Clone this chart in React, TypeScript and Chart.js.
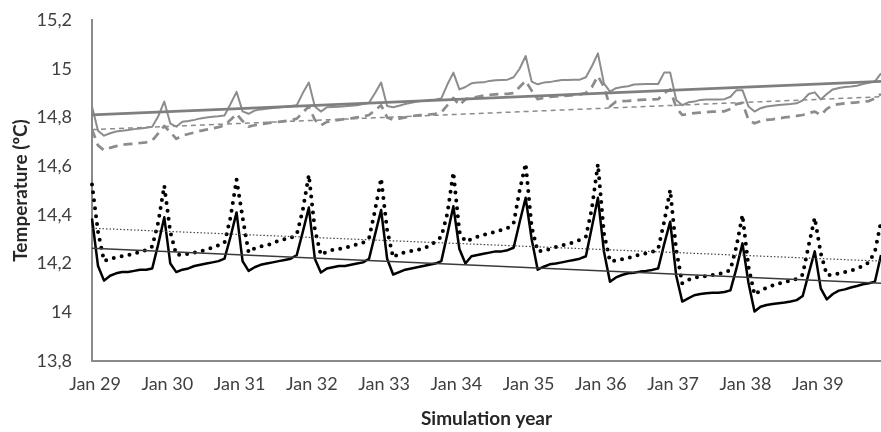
import { useEffect, useRef } from 'react';
import { Chart, registerables } from 'chart.js';

Chart.register(...registerables);

const yearLabels = ['Jan 29', 'Jan 30', 'Jan 31', 'Jan 32', 'Jan 33', 'Jan 34', 'Jan 35', 'Jan 36', 'Jan 37', 'Jan 38', 'Jan 39'];

// monthly values, Jan 29 .. Dec 39 (132 months)
const graySolid = [
  14.845, 14.745, 14.725, 14.735, 14.742, 14.745, 14.748, 14.752, 14.755, 14.758, 14.762, 14.805,
  14.865, 14.775, 14.762, 14.782, 14.785, 14.79, 14.796, 14.8, 14.803, 14.805, 14.808, 14.855,
  14.905, 14.825, 14.815, 14.828, 14.833, 14.836, 14.839, 14.841, 14.844, 14.847, 14.85, 14.9,
  14.943, 14.845, 14.824, 14.842, 14.843, 14.844, 14.846, 14.848, 14.85, 14.855, 14.86, 14.9,
  14.943, 14.847, 14.842, 14.848, 14.855, 14.86, 14.865, 14.868, 14.872, 14.874, 14.878, 14.935,
  14.984, 14.915, 14.925, 14.94, 14.943, 14.944, 14.95, 14.953, 14.954, 14.955, 14.965, 15.0,
  15.052, 14.947, 14.936, 14.943, 14.945, 14.95, 14.954, 14.954, 14.955, 14.955, 14.965, 15.01,
  15.063, 14.94, 14.906, 14.92, 14.925, 14.928, 14.935, 14.936, 14.937, 14.937, 14.937, 14.984,
  14.984, 14.872, 14.85, 14.862, 14.865, 14.872, 14.874, 14.874, 14.874, 14.875, 14.885, 14.912,
  14.912, 14.845, 14.824, 14.838, 14.845, 14.848, 14.851, 14.853, 14.855, 14.858, 14.87, 14.896,
  14.903, 14.874, 14.896, 14.915, 14.921, 14.925, 14.927, 14.93, 14.937, 14.942, 14.948, 14.981,
];

const grayDashed = [
  14.75, 14.685, 14.665, 14.675, 14.682, 14.688, 14.69, 14.692, 14.695, 14.698, 14.705, 14.735,
  14.765, 14.74, 14.712, 14.725, 14.732, 14.738, 14.745, 14.75, 14.755, 14.76, 14.767, 14.79,
  14.815, 14.785, 14.762, 14.768, 14.772, 14.776, 14.78, 14.782, 14.785, 14.788, 14.795, 14.82,
  14.845, 14.79, 14.767, 14.782, 14.787, 14.79, 14.793, 14.796, 14.8, 14.803, 14.81, 14.83,
  14.85, 14.8, 14.79, 14.795, 14.8, 14.805, 14.808, 14.81, 14.812, 14.815, 14.82, 14.85,
  14.88, 14.85, 14.875, 14.88, 14.885, 14.89, 14.893, 14.895, 14.896, 14.897, 14.9, 14.925,
  14.95, 14.91, 14.875, 14.88, 14.884, 14.886, 14.888, 14.89, 14.892, 14.895, 14.9, 14.925,
  14.97, 14.925, 14.845, 14.865, 14.867, 14.868, 14.87, 14.872, 14.873, 14.874, 14.875, 14.9,
  14.915, 14.84, 14.81, 14.814, 14.818, 14.82, 14.822, 14.824, 14.824, 14.825, 14.835, 14.855,
  14.86, 14.79, 14.776, 14.785, 14.79, 14.792, 14.796, 14.8, 14.803, 14.806, 14.81, 14.818,
  14.824, 14.81, 14.835, 14.85, 14.855, 14.858, 14.86, 14.862, 14.865, 14.867, 14.878, 14.896,
];

const blackSolid = [
  14.385, 14.19, 14.13, 14.15, 14.16, 14.165, 14.165, 14.17, 14.175, 14.175, 14.18, 14.28,
  14.39, 14.2, 14.165, 14.175, 14.18, 14.19, 14.195, 14.2, 14.205, 14.21, 14.22, 14.31,
  14.41, 14.21, 14.17, 14.185, 14.195, 14.2, 14.205, 14.21, 14.215, 14.22, 14.235, 14.33,
  14.43, 14.22, 14.163, 14.18, 14.185, 14.19, 14.19, 14.195, 14.2, 14.205, 14.22, 14.32,
  14.42, 14.22, 14.155, 14.165, 14.175, 14.18, 14.185, 14.19, 14.195, 14.2, 14.21, 14.32,
  14.435, 14.26, 14.2, 14.23, 14.235, 14.24, 14.245, 14.25, 14.25, 14.255, 14.265, 14.37,
  14.47, 14.3, 14.175, 14.187, 14.197, 14.2, 14.205, 14.21, 14.215, 14.22, 14.23, 14.35,
  14.47, 14.25, 14.125, 14.143, 14.153, 14.16, 14.162, 14.167, 14.17, 14.174, 14.18, 14.28,
  14.372, 14.15, 14.044, 14.057, 14.07, 14.075, 14.078, 14.08, 14.08, 14.083, 14.09, 14.18,
  14.283, 14.12, 14.003, 14.023, 14.03, 14.034, 14.037, 14.04, 14.044, 14.05, 14.067, 14.16,
  14.25, 14.098, 14.053, 14.075, 14.089, 14.094, 14.102, 14.108, 14.115, 14.119, 14.126, 14.235,
];

const blackDotted = [
  14.525, 14.33, 14.21, 14.22, 14.225, 14.23, 14.235, 14.24, 14.25, 14.255, 14.27, 14.37,
  14.52, 14.33, 14.235, 14.237, 14.24, 14.245, 14.25, 14.258, 14.265, 14.275, 14.285, 14.39,
  14.545, 14.39, 14.246, 14.263, 14.27, 14.276, 14.282, 14.295, 14.3, 14.305, 14.32, 14.42,
  14.564, 14.34, 14.235, 14.249, 14.256, 14.26, 14.265, 14.272, 14.279, 14.286, 14.304, 14.42,
  14.55, 14.338, 14.225, 14.242, 14.246, 14.252, 14.256, 14.263, 14.272, 14.29, 14.31, 14.406,
  14.575, 14.331, 14.29, 14.3, 14.31, 14.317, 14.324, 14.33, 14.338, 14.345, 14.365, 14.5,
  14.611, 14.35, 14.25, 14.253, 14.26, 14.268, 14.274, 14.28, 14.287, 14.297, 14.31, 14.427,
  14.609, 14.324, 14.21, 14.213, 14.218, 14.223, 14.23, 14.237, 14.242, 14.248, 14.26, 14.372,
  14.502, 14.256, 14.119, 14.133, 14.142, 14.146, 14.149, 14.153, 14.157, 14.163, 14.174, 14.27,
  14.4, 14.187, 14.072, 14.09, 14.1, 14.11, 14.118, 14.124, 14.13, 14.137, 14.155, 14.276,
  14.388, 14.242, 14.153, 14.153, 14.16, 14.165, 14.171, 14.18, 14.19, 14.205, 14.25, 14.372,
];

// linear trend lines: value at first month, value at last month
const graySolidTrend = [14.81, 14.948];
const grayDashedTrend = [14.75, 14.885];
const blackSolidTrend = [14.263, 14.119];
const blackDottedTrend = [14.345, 14.21];

const fmt = (v: number) => (Math.round(v * 10) / 10).toString().replace('.', ',');

export default function App() {
  const ref = useRef<HTMLCanvasElement>(null);

  useEffect(() => {
    if (!ref.current) return;
    const n = graySolid.length;
    const labels = graySolid.map((_, i) => (i % 12 === 0 ? yearLabels[i / 12] : ''));
    const trend = (ends: number[]) => labels.map((_, i) => (i === 0 ? ends[0] : i === n - 1 ? ends[1] : null));

    const base = { pointRadius: 0, tension: 0, fill: false, borderJoinStyle: 'round' as const };

    const chart = new Chart(ref.current, {
      type: 'line',
      data: {
        labels,
        datasets: [
          { ...base, label: 'trend gs', data: trend(graySolidTrend), spanGaps: true, borderColor: '#7f7f7f', borderWidth: 2.75 },
          { ...base, label: 'trend gd', data: trend(grayDashedTrend), spanGaps: true, borderColor: '#8c8c8c', borderWidth: 1.5, borderDash: [5, 4] },
          { ...base, label: 'trend bs', data: trend(blackSolidTrend), spanGaps: true, borderColor: '#3a3a3a', borderWidth: 1.5 },
          { ...base, label: 'trend bd', data: trend(blackDottedTrend), spanGaps: true, borderColor: '#444444', borderWidth: 1.2, borderDash: [1.5, 2] },
          { ...base, label: 'gray solid', data: graySolid, borderColor: '#8c8c8c', borderWidth: 2 },
          { ...base, label: 'gray dashed', data: grayDashed, borderColor: '#8c8c8c', borderWidth: 2.75, borderDash: [9, 6] },
          { ...base, label: 'black solid', data: blackSolid, borderColor: '#000000', borderWidth: 2.5 },
          { ...base, label: 'black dotted', data: blackDotted, borderColor: '#000000', borderWidth: 4, borderDash: [0, 8], borderCapStyle: 'round' },
        ],
      },
      options: {
        responsive: false,
        animation: false,
        events: [],
        layout: { padding: { left: 0, right: 0, top: 20, bottom: 0 } },
        plugins: { legend: { display: false }, tooltip: { enabled: false } },
        scales: {
          x: {
            type: 'category',
            grid: { display: false, drawTicks: false },
            border: { display: true, color: '#8a8a8a', width: 2 },
            ticks: {
              autoSkip: false,
              maxRotation: 0,
              minRotation: 0,
              padding: 12,
              labelOffset: 3,
              color: '#404040',
              font: { family: 'Lato', size: 18 },
              callback: (_v: any, i: number) => (i % 12 === 0 ? yearLabels[i / 12] : ''),
            },
            title: {
              display: true,
              text: 'Simulation year',
              color: '#262626',
              font: { family: 'Lato', size: 19, weight: 'bold' },
              padding: { top: 0, bottom: 2 },
            },
            afterFit: (s: any) => { s.height = 71; s.paddingLeft = 0; s.paddingRight = 0; },
          },
          y: {
            min: 13.8,
            max: 15.2,
            grid: { display: false, drawTicks: false },
            border: { display: true, color: '#8a8a8a', width: 2 },
            ticks: {
              stepSize: 0.2,
              padding: 20,
              color: '#404040',
              font: { family: 'Lato', size: 18 },
              callback: (v: any) => fmt(Number(v)),
            },
            title: {
              display: true,
              text: 'Temperature (ºC)',
              color: '#262626',
              font: { family: 'Lato', size: 19, weight: 'bold' },
              padding: { top: 9, bottom: 0 },
            },
            afterFit: (s: any) => { s.width = 92; s.paddingTop = 0; s.paddingBottom = 0; },
          },
        },
      },
    } as any);

    return () => chart.destroy();
  }, []);

  return (
    <div style={{ position: 'fixed', left: 0, top: 0, width: 881, height: 432, background: '#ffffff' }}>
      <canvas ref={ref} width={881} height={432} style={{ display: 'block' }} />
    </div>
  );
}
